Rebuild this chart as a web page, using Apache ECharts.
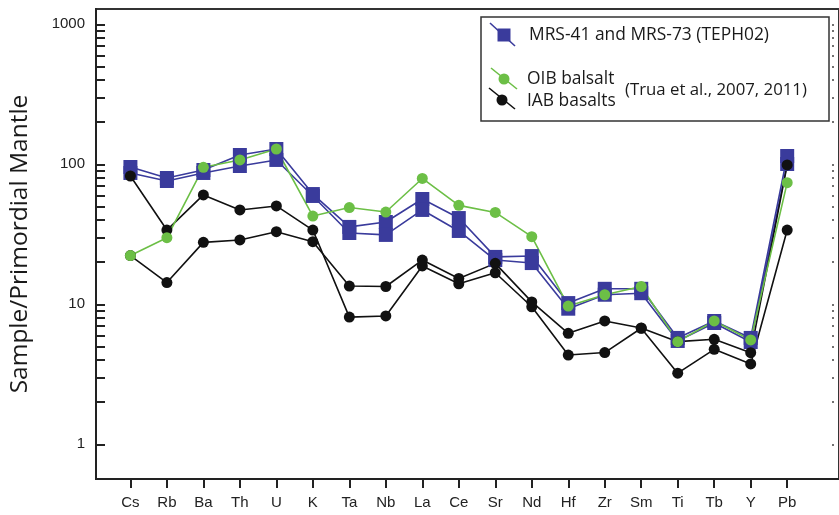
<!DOCTYPE html>
<html>
<head>
<meta charset="utf-8">
<script src="https://cdn.jsdelivr.net/npm/echarts@6/dist/echarts.min.js"></script>
<style>
  html, body { margin: 0; padding: 0; background: #fff; }
  #chart { width: 839px; height: 515px; }
</style>
</head>
<body>
<div id="chart"></div>
<script>
// Trace elements, in spider-diagram order
const elements = ['Cs', 'Rb', 'Ba', 'Th', 'U', 'K', 'Ta', 'Nb', 'La', 'Ce', 'Sr', 'Nd', 'Hf', 'Zr', 'Sm', 'Ti', 'Tb', 'Y', 'Pb'];

// Sample / primordial mantle ratios
const mrs41 = [95.6, 79.8, 91.0, 116.5, 128.6, 61.3, 35.7, 38.7, 56.5, 41.3, 21.8, 22.1, 10.2, 12.9, 12.9, 5.75, 7.6, 5.75, 114.6];
const mrs73 = [86.7, 76.0, 86.7, 97.2, 107.4, 59.4, 32.3, 31.3, 47.2, 33.4, 20.7, 19.7, 9.3, 11.7, 12.0, 5.47, 7.35, 5.38, 100.5];
const oibBasalt = [22.3, 29.9, 95.2, 107.4, 128.6, 42.7, 49.1, 45.6, 79.2, 50.9, 45.3, 30.4, 9.72, 11.7, 13.4, 5.41, 7.6, 5.56, 73.9];
const iabBasaltA = [82.5, 33.9, 60.4, 47.2, 50.4, 33.9, 8.1, 8.25, 18.8, 14.0, 16.8, 9.6, 4.34, 4.52, 6.74, 3.22, 4.77, 3.75, 33.9];
const iabBasaltB = [22.3, 14.3, 27.7, 28.8, 33.0, 28.0, 13.5, 13.4, 20.7, 15.3, 19.6, 10.4, 6.2, 7.6, 6.77, 5.41, 5.62, 4.51, 98.9];

// Log axis ticks
const yLabelTicks = [1, 10, 100, 1000];
const yTicks = [1, 2, 3, 4, 5, 6, 7, 8, 9, 10, 20, 30, 40, 50, 60, 70, 80, 90, 100, 200, 300, 400, 500, 600, 700, 800, 900, 1000];

const BLUE = '#3a3b9c';
const GREEN = '#6cbf46';
const BLACK = '#111111';
const AXIS = '#222222';
const FONT = 'Open Sans';

const pairs = arr => arr.map((v, i) => [i, v]);
const idx = elements.map((_, i) => i);

function lineSeries(name, arr, color, symbol, size) {
  return {
    name: name,
    type: 'line',
    data: pairs(arr),
    symbol: symbol,
    symbolSize: size,
    showSymbol: true,
    itemStyle: { color: color, opacity: 1 },
    lineStyle: { color: color, width: 1.6 },
    emphasis: { disabled: true },
    animation: false
  };
}

const chart = echarts.init(document.getElementById('chart'));
chart.setOption({
  backgroundColor: '#fff',
  animation: false,
  grid: {
    left: 96, top: 9, right: -6, bottom: 36,
    show: true, borderColor: '#333', borderWidth: 2, backgroundColor: 'transparent'
  },
  xAxis: {
    type: 'value',
    min: -0.943,
    max: 19.42,
    axisLine: { show: true, onZero: false, lineStyle: { color: AXIS, width: 2 } },
    axisTick: { show: true, customValues: idx, length: 9, inside: false, lineStyle: { color: AXIS, width: 2 } },
    axisLabel: {
      customValues: idx,
      formatter: v => elements[Math.round(v)] || '',
      fontFamily: 'Liberation Sans', fontSize: 15, color: '#222', margin: 16
    },
    splitLine: { show: false }
  },
  yAxis: [
    {
      type: 'log',
      logBase: 10,
      min: 0.565,
      max: 1286,
      name: 'Sample/Primordial Mantle',
      nameLocation: 'middle',
      nameGap: 63,
      nameTextStyle: { fontFamily: FONT, fontSize: 24.5, color: '#1a1a1a' },
      axisLine: { show: true, onZero: false, lineStyle: { color: AXIS, width: 2 } },
      axisTick: { show: true, customValues: yTicks, inside: true, length: 9, lineStyle: { color: AXIS, width: 2 } },
      axisLabel: {
        customValues: yLabelTicks,
        formatter: v => String(Math.round(v)),
        fontFamily: 'Liberation Sans', fontSize: 15, color: '#222', margin: 11
      },
      splitLine: { show: false }
    },
    {
      type: 'log',
      logBase: 10,
      min: 0.565,
      max: 1286,
      position: 'right',
      offset: -5,
      axisLine: { show: false, onZero: false },
      axisTick: { show: true, customValues: yTicks, inside: true, length: 2, lineStyle: { color: '#444', width: 1.5 } },
      axisLabel: { show: false },
      splitLine: { show: false }
    }
  ],
  series: [
    lineSeries('MRS-41', mrs41, BLUE, 'rect', 14),
    lineSeries('MRS-73', mrs73, BLUE, 'rect', 14),
    lineSeries('IAB basalts A', iabBasaltA, BLACK, 'circle', 11),
    lineSeries('IAB basalts B', iabBasaltB, BLACK, 'circle', 11),
    lineSeries('OIB balsalt', oibBasalt, GREEN, 'circle', 11)
  ],
  graphic: [
    { type: 'rect', shape: { x: 481, y: 17, width: 348, height: 104 },
      style: { fill: '#fff', stroke: '#333', lineWidth: 1.5 }, z: 100 },
    { type: 'line', shape: { x1: 490, y1: 23, x2: 515, y2: 46 },
      style: { stroke: BLUE, lineWidth: 1.6 }, z: 101 },
    { type: 'rect', shape: { x: 497.5, y: 28.5, width: 13, height: 13 },
      style: { fill: BLUE }, z: 102 },
    { type: 'text', x: 529, y: 35,
      style: { text: 'MRS-41 and MRS-73 (TEPH02)', fontFamily: FONT, fontSize: 17.4, fill: '#1a1a1a', verticalAlign: 'middle' }, z: 102 },
    { type: 'line', shape: { x1: 491, y1: 68, x2: 517, y2: 89 },
      style: { stroke: GREEN, lineWidth: 1.6 }, z: 101 },
    { type: 'circle', shape: { cx: 504, cy: 79, r: 5.5 },
      style: { fill: GREEN }, z: 102 },
    { type: 'text', x: 527, y: 79,
      style: { text: 'OIB balsalt', fontFamily: FONT, fontSize: 17.4, fill: '#1a1a1a', verticalAlign: 'middle' }, z: 102 },
    { type: 'line', shape: { x1: 489, y1: 88, x2: 515, y2: 109 },
      style: { stroke: BLACK, lineWidth: 1.6 }, z: 101 },
    { type: 'circle', shape: { cx: 502, cy: 100, r: 5.5 },
      style: { fill: BLACK }, z: 102 },
    { type: 'text', x: 527, y: 101,
      style: { text: 'IAB basalts', fontFamily: FONT, fontSize: 17.4, fill: '#1a1a1a', verticalAlign: 'middle' }, z: 102 },
    { type: 'text', x: 625, y: 90,
      style: { text: '(Trua et al., 2007, 2011)', fontFamily: FONT, fontSize: 16.8, fill: '#1a1a1a', verticalAlign: 'middle' }, z: 102 }
  ]
});
</script>
</body>
</html>
